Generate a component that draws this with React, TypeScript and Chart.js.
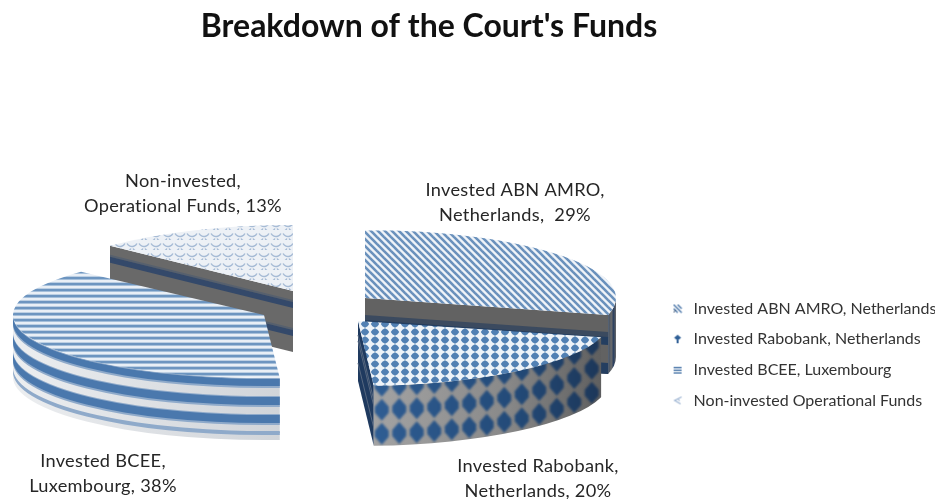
import React, { useEffect, useRef } from "react";
import { Chart, registerables } from "chart.js";

Chart.register(...registerables);

const categories = [
  "Invested ABN AMRO, Netherlands",
  "Invested Rabobank, Netherlands",
  "Invested BCEE, Luxembourg",
  "Non-invested Operational Funds",
];
const shares = [29, 20, 38, 13];
const calloutLines = [
  ["Invested ABN AMRO,", "Netherlands,  {v}%"],
  ["Invested Rabobank,", "Netherlands, {v}%"],
  ["Invested BCEE,", "Luxembourg, {v}%"],
  ["Non-invested,", "Operational Funds, {v}%"],
];
const chartTitle = "Breakdown of the Court's Funds";

// layout of the exploded 3D slices
const RADIUS = 251;
const DEPTH = 61;
const sliceCenters = [
  { x: 365, y: 298, ry: 68 },
  { x: 358, y: 321, ry: 65 },
  { x: 264, y: 315, ry: 63 },
  { x: 293, y: 291, ry: 66 },
];
const calloutPos = [
  { x: 515, y: 190 },
  { x: 538, y: 466 },
  { x: 103, y: 461 },
  { x: 183, y: 181 },
];
const drawOrder = [3, 2, 0, 1];

function tile(w: number, h: number, paint: (c: CanvasRenderingContext2D) => void) {
  const cv = document.createElement("canvas");
  cv.width = w;
  cv.height = h;
  paint(cv.getContext("2d")!);
  return cv;
}

function makePatterns(ctx: CanvasRenderingContext2D) {
  const abn = tile(7, 7, (c) => {
    c.fillStyle = "#eff3f8";
    c.fillRect(0, 0, 7, 7);
    c.strokeStyle = "#6a91bc";
    c.lineWidth = 2.6;
    for (const o of [-7, 0, 7]) {
      c.beginPath();
      c.moveTo(o - 1, -1);
      c.lineTo(o + 8, 8);
      c.stroke();
    }
  });
  const rabo = tile(10, 8, (c) => {
    c.fillStyle = "#eef3f8";
    c.fillRect(0, 0, 10, 8);
    c.fillStyle = "#5180b3";
    c.beginPath();
    c.moveTo(5, 0.2);
    c.lineTo(7.6, 1.8);
    c.lineTo(9.2, 4);
    c.lineTo(7.6, 6.2);
    c.lineTo(5, 7.8);
    c.lineTo(2.4, 6.2);
    c.lineTo(0.8, 4);
    c.lineTo(2.4, 1.8);
    c.closePath();
    c.fill();
  });
  const bcee = tile(4, 6, (c) => {
    c.fillStyle = "#e9eff6";
    c.fillRect(0, 0, 4, 6);
    c.fillStyle = "#bccfe3";
    c.fillRect(0, 0, 4, 1);
    c.fillStyle = "#6d95c0";
    c.fillRect(0, 1, 4, 2);
    c.fillStyle = "#a5bfda";
    c.fillRect(0, 3, 4, 1);
  });
  const non = tile(12, 10, (c) => {
    c.fillStyle = "#edf1f6";
    c.fillRect(0, 0, 12, 10);
    c.strokeStyle = "#a6bbd5";
    c.lineWidth = 1.5;
    for (const [x, y] of [[0, 1], [12, 1], [6, 6], [0, 11], [12, 11]]) {
      c.beginPath();
      c.arc(x, y, 5.5, 0.15 * Math.PI, 0.85 * Math.PI);
      c.stroke();
    }
  });
  return [abn, rabo, bcee, non].map((t) => ctx.createPattern(t, "repeat")!);
}

function makeIcons() {
  const s = 10;
  return [
    tile(s, s, (c) => {
      c.strokeStyle = "#4a76a8";
      c.lineWidth = 1.4;
      c.beginPath();
      c.moveTo(1, 1);
      c.lineTo(9, 9);
      c.moveTo(5, 1);
      c.lineTo(9, 5);
      c.moveTo(1, 5);
      c.lineTo(5, 9);
      c.stroke();
      c.strokeStyle = "#1f3a5f";
      c.lineWidth = 0.8;
      c.beginPath();
      c.moveTo(1, 9);
      c.lineTo(3, 6);
      c.stroke();
    }),
    tile(s, s, (c) => {
      c.fillStyle = "#2f5f96";
      c.beginPath();
      c.moveTo(5, 0.5);
      c.lineTo(8.5, 3.5);
      c.lineTo(5, 6.5);
      c.lineTo(1.5, 3.5);
      c.closePath();
      c.fill();
      c.fillRect(4, 6, 2, 3);
    }),
    tile(s, s, (c) => {
      c.fillStyle = "#4a76a8";
      c.fillRect(1, 2, 8, 1.4);
      c.fillRect(1, 4.7, 8, 1.4);
      c.fillRect(1, 7.4, 8, 1.4);
    }),
    tile(s, s, (c) => {
      c.strokeStyle = "#9db4d2";
      c.lineWidth = 1.2;
      c.beginPath();
      c.moveTo(9, 1.5);
      c.lineTo(2, 5);
      c.lineTo(8, 8.5);
      c.moveTo(5, 3);
      c.lineTo(7, 5.5);
      c.stroke();
    }),
  ];
}

function wallPath(c: CanvasRenderingContext2D, s: any, a0: number, a1: number, d0: number, d1: number) {
  c.beginPath();
  c.ellipse(s.x, s.y + d0, RADIUS, s.ry, 0, a0, a1);
  c.ellipse(s.x, s.y + d1, RADIUS, s.ry, 0, a1, a0, true);
  c.closePath();
}

function cutPath(c: CanvasRenderingContext2D, s: any, a: number, d0: number, d1: number) {
  const px = s.x + RADIUS * Math.cos(a);
  const py = s.y + s.ry * Math.sin(a);
  c.beginPath();
  c.moveTo(s.x, s.y + d0);
  c.lineTo(px, py + d0);
  c.lineTo(px, py + d1);
  c.lineTo(s.x, s.y + d1);
  c.closePath();
}

function drawNonWall(c: CanvasRenderingContext2D, s: any, a: number) {
  cutPath(c, s, a, 0, DEPTH);
  c.fillStyle = "#696969";
  c.fill();
  for (const [d0, d1] of [[11, 17], [39, 45]]) {
    cutPath(c, s, a, d0 - 2, d0);
    c.fillStyle = "#56606e";
    c.fill();
    cutPath(c, s, a, d0, d1);
    c.fillStyle = "#34496a";
    c.fill();
  }
}

function drawBceeWall(c: CanvasRenderingContext2D, s: any, a0: number, a1: number) {
  const g = c.createLinearGradient(s.x - RADIUS, 0, s.x + 30, 0);
  g.addColorStop(0, "#eceef0");
  g.addColorStop(0.5, "#dde0e4");
  g.addColorStop(1, "#cfd3d8");
  wallPath(c, s, a0, a1, 0, DEPTH + 1);
  c.fillStyle = g;
  c.fill();
  for (const [d0, d1] of [[0, 8], [18, 27], [36, 45], [53, 55]]) {
    wallPath(c, s, a0, a1, d0, d1 + 2);
    c.fillStyle = "#8faaca";
    c.fill();
    wallPath(c, s, a0, a1, d0 + 1, d1);
    c.fillStyle = d1 === 55 ? "#8faaca" : "#4a78ad";
    c.fill();
  }
}

function drawRaboWall(c: CanvasRenderingContext2D, s: any, a0: number, a1: number) {
  cutPath(c, s, a1, 0, DEPTH - 1);
  c.fillStyle = "#1f3a5f";
  c.fill();
  const px = s.x + RADIUS * Math.cos(a1);
  const py = s.y + s.ry * Math.sin(a1);
  c.strokeStyle = "#56677f";
  c.lineWidth = 1;
  for (const d of [14, 20, 42]) {
    c.beginPath();
    c.moveTo(s.x, s.y + d);
    c.lineTo(px, py + d);
    c.stroke();
  }
  const g = c.createLinearGradient(px, 0, s.x + RADIUS, 0);
  g.addColorStop(0, "#a3a3a3");
  g.addColorStop(0.55, "#8a8a8a");
  g.addColorStop(1, "#5c5c5c");
  wallPath(c, s, a0, a1, 0, DEPTH - 1);
  c.fillStyle = g;
  c.fill();
  c.save();
  wallPath(c, s, a0, a1, 0, DEPTH - 1);
  c.clip();
  const g2 = c.createLinearGradient(px, 0, s.x + RADIUS, 0);
  g2.addColorStop(0, "#2f5d93");
  g2.addColorStop(0.6, "#234a78");
  g2.addColorStop(1, "#1c3556");
  c.fillStyle = g2;
  c.filter = "blur(1.2px)";
  for (let x = px + 8; x < s.x + RADIUS; x += 17.5) {
    const t = (x - s.x) / RADIUS;
    const top = s.y + s.ry * Math.sqrt(Math.max(0, 1 - t * t));
    for (const d of [0, 24, 48]) {
      const cy = top + d;
      const hw = 7;
      const hh = 11;
      c.beginPath();
      c.moveTo(x, cy - hh);
      c.lineTo(x + hw, cy - 3);
      c.lineTo(x + hw, cy + 3);
      c.lineTo(x, cy + hh);
      c.lineTo(x - hw, cy + 3);
      c.lineTo(x - hw, cy - 3);
      c.closePath();
      c.fill();
    }
  }
  c.restore();
}

function drawAbnWall(c: CanvasRenderingContext2D, s: any, a0: number, a1: number, cut: number) {
  cutPath(c, s, cut, 0, DEPTH - 2);
  c.fillStyle = "#626262";
  c.fill();
  cutPath(c, s, cut, 17, 23);
  c.fillStyle = "#3b4a5f";
  c.fill();
  cutPath(c, s, cut, 22, 30);
  c.fillStyle = "#243e60";
  c.fill();
  cutPath(c, s, cut, 48, DEPTH - 2);
  c.fillStyle = "#243e60";
  c.fill();
  const g = c.createLinearGradient(s.x + RADIUS * Math.cos(a1), 0, s.x + RADIUS, 0);
  g.addColorStop(0, "#3c4c62");
  g.addColorStop(0.4, "#6c6c6c");
  g.addColorStop(0.7, "#2b4060");
  g.addColorStop(1, "#6a6a6a");
  wallPath(c, s, a0, a1, 0, DEPTH - 2);
  c.fillStyle = g;
  c.fill();
}

const pie3d = {
  id: "pie3d",
  afterLayout(chart: any) {
    const lg = chart.legend;
    lg.left = 655;
    lg.top = 286;
    const tb = chart.titleBlock;
    tb.left = 0;
    tb.right = 858;
    tb.top = 7;
  },
  beforeDatasetDraw(chart: any, args: any) {
    const c: CanvasRenderingContext2D = chart.ctx;
    const arcs = chart.getDatasetMeta(args.index).data;
    for (const i of drawOrder) {
      const arc = arcs[i];
      const s = sliceCenters[i];
      const a0 = arc.startAngle;
      const a1 = arc.endAngle;
      c.save();
      if (i === 0) drawAbnWall(c, s, 0, a1, a1);
      if (i === 1) drawRaboWall(c, s, a0, a1);
      if (i === 2) drawBceeWall(c, s, a0, Math.PI);
      if (i === 3) drawNonWall(c, s, a0);
      c.restore();
      c.save();
      c.translate(s.x, s.y);
      c.scale(1, s.ry / RADIUS);
      c.translate(-arc.x, -arc.y);
      const pattern = arc.options.backgroundColor;
      pattern.setTransform(c.getTransform().inverse());
      arc.draw(c);
      c.restore();
    }
    return false;
  },
  afterDatasetsDraw(chart: any) {
    const c: any = chart.ctx;
    c.save();
    c.font = "18.2px Lato";
    c.letterSpacing = "0.3px";
    c.fillStyle = "#262626";
    c.textAlign = "center";
    c.textBaseline = "middle";
    calloutLines.forEach((lines, i) => {
      lines.forEach((t, j) => {
        c.fillText(t.replace("{v}", String(shares[i])), calloutPos[i].x, calloutPos[i].y + j * 25.5);
      });
    });
    c.restore();
  },
};

export default function App() {
  const ref = useRef<HTMLCanvasElement>(null);
  useEffect(() => {
    document.body.style.margin = "0";
    const ctx = ref.current!.getContext("2d")!;
    const patterns = makePatterns(ctx);
    const icons = makeIcons();
    const chart = new Chart(ctx, {
      type: "pie",
      data: {
        labels: categories,
        datasets: [{ data: shares, backgroundColor: patterns, borderWidth: 0 }],
      },
      options: {
        animation: false,
        responsive: false,
        radius: RADIUS,
        plugins: {
          tooltip: { enabled: false },
          title: {
            display: true,
            text: chartTitle,
            color: "#111111",
            font: { family: "Lato", size: 32, weight: "bold" },
            padding: 0,
          },
          legend: {
            position: "right",
            align: "start",
            labels: {
              usePointStyle: true,
              padding: 14.6,
              color: "#333333",
              font: { family: "Lato", size: 16 },
              generateLabels: () =>
                categories.map((text, i) => ({
                  text,
                  index: i,
                  pointStyle: icons[i],
                  fontColor: "#333333",
                  hidden: false,
                  lineWidth: 0,
                  strokeStyle: "transparent",
                  fillStyle: "transparent",
                })),
            },
          },
        },
      } as any,
      plugins: [pie3d as any],
    });
    return () => chart.destroy();
  }, []);
  return (
    <div style={{ position: "absolute", left: 0, top: 0, width: 935, height: 499, background: "#fff" }}>
      <canvas ref={ref} width={935} height={499} style={{ display: "block" }} />
    </div>
  );
}
